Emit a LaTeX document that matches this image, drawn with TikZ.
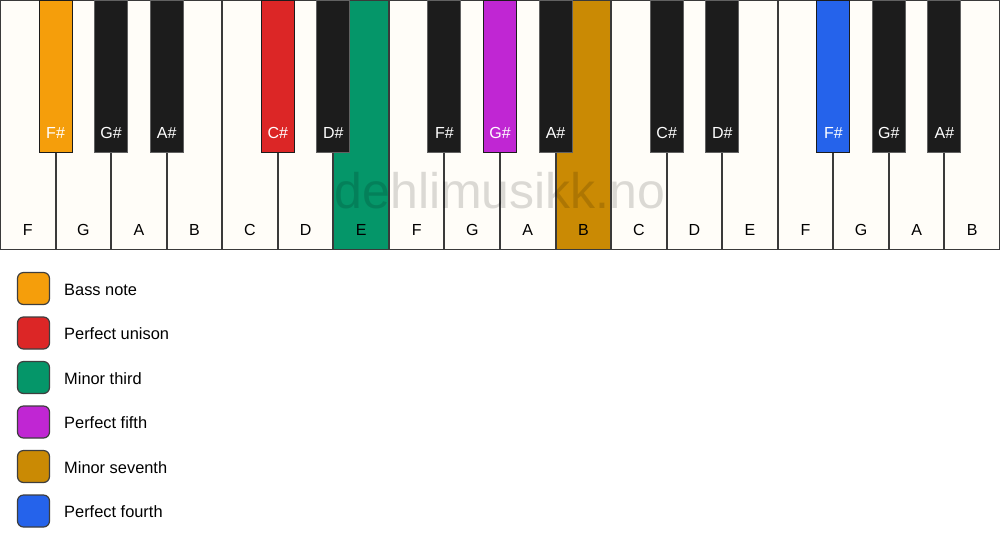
\documentclass[tikz,border=0pt]{standalone}
\usepackage{fontspec}
\setmainfont{Liberation Sans}
\usepackage{tikz}
\usetikzlibrary{positioning}

\definecolor{ivory}{HTML}{FFFDF8}
\definecolor{keyblack}{HTML}{1C1C1C}
\definecolor{rim}{HTML}{3A3A3A}
\definecolor{bassc}{HTML}{F59E0B}
\definecolor{unisonc}{HTML}{DC2626}
\definecolor{thirdc}{HTML}{059669}
\definecolor{fifthc}{HTML}{C026D3}
\definecolor{seventhc}{HTML}{CA8A04}
\definecolor{fourthc}{HTML}{2563EB}

\begin{document}
\begin{tikzpicture}[x=1pt,y=-1pt]
\tikzstyle{every node}+=[inner sep=0pt,font=\fontsize{16}{19}\selectfont]
\tikzstyle{wkey}=[draw=rim,line width=1pt,fill=ivory,minimum width=54.56pt,minimum height=249pt]
\tikzstyle{bkey}=[draw=rim!80,line width=1pt,fill=keyblack,minimum width=33pt,minimum height=152pt]
\tikzstyle{wlab}=[text=black]
\tikzstyle{blab}=[text=white]
\tikzstyle{swatch}=[draw=keyblack!85,line width=1.2pt,rounded corners=6pt,minimum size=32pt]
\tikzstyle{legtext}=[anchor=west,text=black,font=\fontsize{16.4}{19}\selectfont]
\useasboundingbox (0,0) rectangle (1000,550);
\fill [white] (0,0) rectangle (1000,550);
% white keys
\node [wkey] (kF1) at (27.78,125) {};
\node [wkey] (kG1) at (83.33,125) {};
\node [wkey] (kA1) at (138.89,125) {};
\node [wkey] (kB1) at (194.44,125) {};
\node [wkey] (kC1) at (250,125) {};
\node [wkey] (kD1) at (305.56,125) {};
\node [wkey,fill=thirdc] (kE1) at (361.11,125) {};
\node [wkey] (kF2) at (416.67,125) {};
\node [wkey] (kG2) at (472.22,125) {};
\node [wkey] (kA2) at (527.78,125) {};
\node [wkey,fill=seventhc] (kB2) at (583.33,125) {};
\node [wkey] (kC2) at (638.89,125) {};
\node [wkey] (kD2) at (694.44,125) {};
\node [wkey] (kE2) at (750,125) {};
\node [wkey] (kF3) at (805.56,125) {};
\node [wkey] (kG3) at (861.11,125) {};
\node [wkey] (kA3) at (916.67,125) {};
\node [wkey] (kB3) at (972.22,125) {};
\node [wlab] (lF1) at (27.78,230) {F};
\node [wlab] (lG1) at (83.33,230) {G};
\node [wlab] (lA1) at (138.89,230) {A};
\node [wlab] (lB1) at (194.44,230) {B};
\node [wlab] (lC1) at (250,230) {C};
\node [wlab] (lD1) at (305.56,230) {D};
\node [wlab] (lE1) at (361.11,230) {E};
\node [wlab] (lF2) at (416.67,230) {F};
\node [wlab] (lG2) at (472.22,230) {G};
\node [wlab] (lA2) at (527.78,230) {A};
\node [wlab] (lB2) at (583.33,230) {B};
\node [wlab] (lC2) at (638.89,230) {C};
\node [wlab] (lD2) at (694.44,230) {D};
\node [wlab] (lE2) at (750,230) {E};
\node [wlab] (lF3) at (805.56,230) {F};
\node [wlab] (lG3) at (861.11,230) {G};
\node [wlab] (lA3) at (916.67,230) {A};
\node [wlab] (lB3) at (972.22,230) {B};
% watermark
\node [text=black,opacity=0.14,font=\fontsize{50}{52}\selectfont] (mark) at (500,191) {dehlimusikk.no};
% black keys
\node [bkey,fill=bassc,draw=keyblack] (kFs1) at (55.56,76.5) {};
\node [bkey] (kGs1) at (111.11,76.5) {};
\node [bkey] (kAs1) at (166.67,76.5) {};
\node [bkey,fill=unisonc,draw=keyblack] (kCs1) at (277.78,76.5) {};
\node [bkey] (kDs1) at (333.33,76.5) {};
\node [bkey] (kFs2) at (444.44,76.5) {};
\node [bkey,fill=fifthc,draw=keyblack] (kGs2) at (500,76.5) {};
\node [bkey] (kAs2) at (555.56,76.5) {};
\node [bkey] (kCs2) at (666.67,76.5) {};
\node [bkey] (kDs2) at (722.22,76.5) {};
\node [bkey,fill=fourthc,draw=keyblack] (kFs3) at (833.33,76.5) {};
\node [bkey] (kGs3) at (888.89,76.5) {};
\node [bkey] (kAs3) at (944.44,76.5) {};
\node [blab] (lFs1) at (55.56,133) {F\#};
\node [blab] (lGs1) at (111.11,133) {G\#};
\node [blab] (lAs1) at (166.67,133) {A\#};
\node [blab] (lCs1) at (277.78,133) {C\#};
\node [blab] (lDs1) at (333.33,133) {D\#};
\node [blab] (lFs2) at (444.44,133) {F\#};
\node [blab] (lGs2) at (500,133) {G\#};
\node [blab] (lAs2) at (555.56,133) {A\#};
\node [blab] (lCs2) at (666.67,133) {C\#};
\node [blab] (lDs2) at (722.22,133) {D\#};
\node [blab] (lFs3) at (833.33,133) {F\#};
\node [blab] (lGs3) at (888.89,133) {G\#};
\node [blab] (lAs3) at (944.44,133) {A\#};
% legend
\node [swatch,fill=bassc] (sBass) at (33.5,288.5) {};
\node [swatch,fill=unisonc] (sUnison) at (33.5,333) {};
\node [swatch,fill=thirdc] (sThird) at (33.5,377.5) {};
\node [swatch,fill=fifthc] (sFifth) at (33.5,422) {};
\node [swatch,fill=seventhc] (sSeventh) at (33.5,466.5) {};
\node [swatch,fill=fourthc] (sFourth) at (33.5,511) {};
\node [legtext] (tBass) at (64,289.5) {Bass note};
\node [legtext] (tUnison) at (64,334) {Perfect unison};
\node [legtext] (tThird) at (64,378.5) {Minor third};
\node [legtext] (tFifth) at (64,423) {Perfect fifth};
\node [legtext] (tSeventh) at (64,467.5) {Minor seventh};
\node [legtext] (tFourth) at (64,512) {Perfect fourth};
\end{tikzpicture}
\end{document}
